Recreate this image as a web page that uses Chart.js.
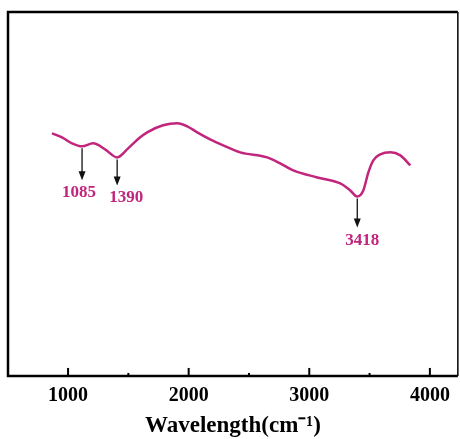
<!DOCTYPE html>
<html>
<head>
<meta charset="utf-8">
<script src="https://cdn.jsdelivr.net/npm/chart.js@4"></script>
<style>
  html, body { margin: 0; padding: 0; background: #fff; }
  #wrap { width: 460px; height: 439px; }
</style>
</head>
<body>
<div id="wrap"><canvas id="ftir"></canvas></div>
<script>
// Данные спектра (волновое число, условная интенсивность)
const wavenumbers = [867, 950, 1033, 1116, 1207, 1307, 1407, 1498, 1598, 1656, 1788, 1905, 1988, 2071, 2178, 2286, 2427, 2651, 2759, 2867, 3066, 3257, 3340, 3398, 3448, 3490, 3531, 3589, 3672, 3755, 3838];
const intensity = [242, 238, 232, 229, 232, 226, 218, 227, 238, 243, 250, 252, 249, 243, 236, 230, 223, 218, 212, 205, 198, 192, 185, 179, 185, 203, 215, 221, 223, 220, 210];

// Подписи пиков
const peakLabels = ['1085', '1390', '3418'];
const peakPositions = [1116, 1407, 3398];

// Деления оси X
const majorTicks = [1000, 2000, 3000, 4000];
const minorTicks = [1500, 2500, 3500];

const curveColor = '#c2257c';
const serif = '"Liberation Serif", "Times New Roman", serif';

// Рамка графика, внутренние деления и стрелки с подписями
const framePlugin = {
    id: 'frame',
    afterDatasetsDraw(chart) {
        const { ctx, chartArea: a, scales } = chart;
        const xs = scales.x, ys = scales.y;
        ctx.save();
        ctx.strokeStyle = '#000';
        ctx.lineCap = 'butt';
        // Рамка
        ctx.lineWidth = 2.5;
        ctx.beginPath();
        ctx.moveTo(a.right, a.top);
        ctx.lineTo(a.left, a.top);
        ctx.lineTo(a.left, a.bottom);
        ctx.lineTo(a.right, a.bottom);
        ctx.stroke();
        ctx.lineWidth = 1.5;
        ctx.beginPath();
        ctx.moveTo(a.right, a.top);
        ctx.lineTo(a.right, a.bottom);
        ctx.stroke();
        // Деления внутрь
        ctx.lineWidth = 2;
        majorTicks.forEach(v => {
            const px = xs.getPixelForValue(v);
            ctx.beginPath();
            ctx.moveTo(px, a.bottom);
            ctx.lineTo(px, a.bottom - 8);
            ctx.stroke();
        });
        minorTicks.forEach(v => {
            const px = xs.getPixelForValue(v);
            ctx.beginPath();
            ctx.moveTo(px, a.bottom);
            ctx.lineTo(px, a.bottom - 3);
            ctx.stroke();
        });
        // Стрелки и подписи пиков
        const labelDx = [-3, 9, 5];
        const labelDy = [46, 40, 44];
        const arrowLen = [34, 28, 31];
        peakPositions.forEach((w, i) => {
            const idx = wavenumbers.indexOf(w);
            const px = xs.getPixelForValue(w);
            const py = ys.getPixelForValue(intensity[idx]);
            const y0 = py + 2, y1 = py + arrowLen[i];
            ctx.strokeStyle = '#111';
            ctx.fillStyle = '#111';
            ctx.lineWidth = 1.3;
            ctx.beginPath();
            ctx.moveTo(px, y0);
            ctx.lineTo(px, y1 - 7);
            ctx.stroke();
            ctx.beginPath();
            ctx.moveTo(px - 3.5, y1 - 9);
            ctx.lineTo(px + 3.5, y1 - 9);
            ctx.lineTo(px, y1);
            ctx.closePath();
            ctx.fill();
            ctx.fillStyle = curveColor;
            ctx.font = 'bold 17px ' + serif;
            ctx.textAlign = 'center';
            ctx.textBaseline = 'middle';
            ctx.fillText(peakLabels[i], px + labelDx[i], py + labelDy[i]);
        });
        ctx.restore();
    }
};

new Chart(document.getElementById('ftir'), {
    type: 'line',
    data: {
        datasets: [{
            data: wavenumbers.map((w, i) => ({ x: w, y: intensity[i] })),
            borderColor: curveColor,
            borderWidth: 2.5,
            pointRadius: 0,
            tension: 0.4,
            cubicInterpolationMode: 'monotone',
            fill: false
        }]
    },
    options: {
        responsive: true,
        maintainAspectRatio: false,
        animation: false,
        layout: { padding: { left: 8, right: 2, top: 12, bottom: 0 } },
        plugins: { legend: { display: false }, tooltip: { enabled: false } },
        scales: {
            x: {
                type: 'linear',
                min: 502,
                max: 4232,
                grid: { display: false, drawTicks: false },
                border: { display: false },
                afterBuildTicks: (scale) => { scale.ticks = majorTicks.map(v => ({ value: v })); },
                ticks: {
                    padding: 10,
                    color: '#000',
                    font: { family: serif, size: 20, weight: 'bold', lineHeight: 1 },
                    maxRotation: 0,
                    callback: (v) => String(v)
                },
                title: {
                    display: true,
                    text: 'Wavelength(cm⁻¹)',
                    color: '#000',
                    font: { family: serif, size: 23, weight: 'bold', lineHeight: 0.85 },
                    padding: { top: 0, bottom: 3.5 }
                }
            },
            y: {
                display: false,
                min: 0,
                max: 363
            }
        }
    },
    plugins: [framePlugin]
});
</script>
</body>
</html>
